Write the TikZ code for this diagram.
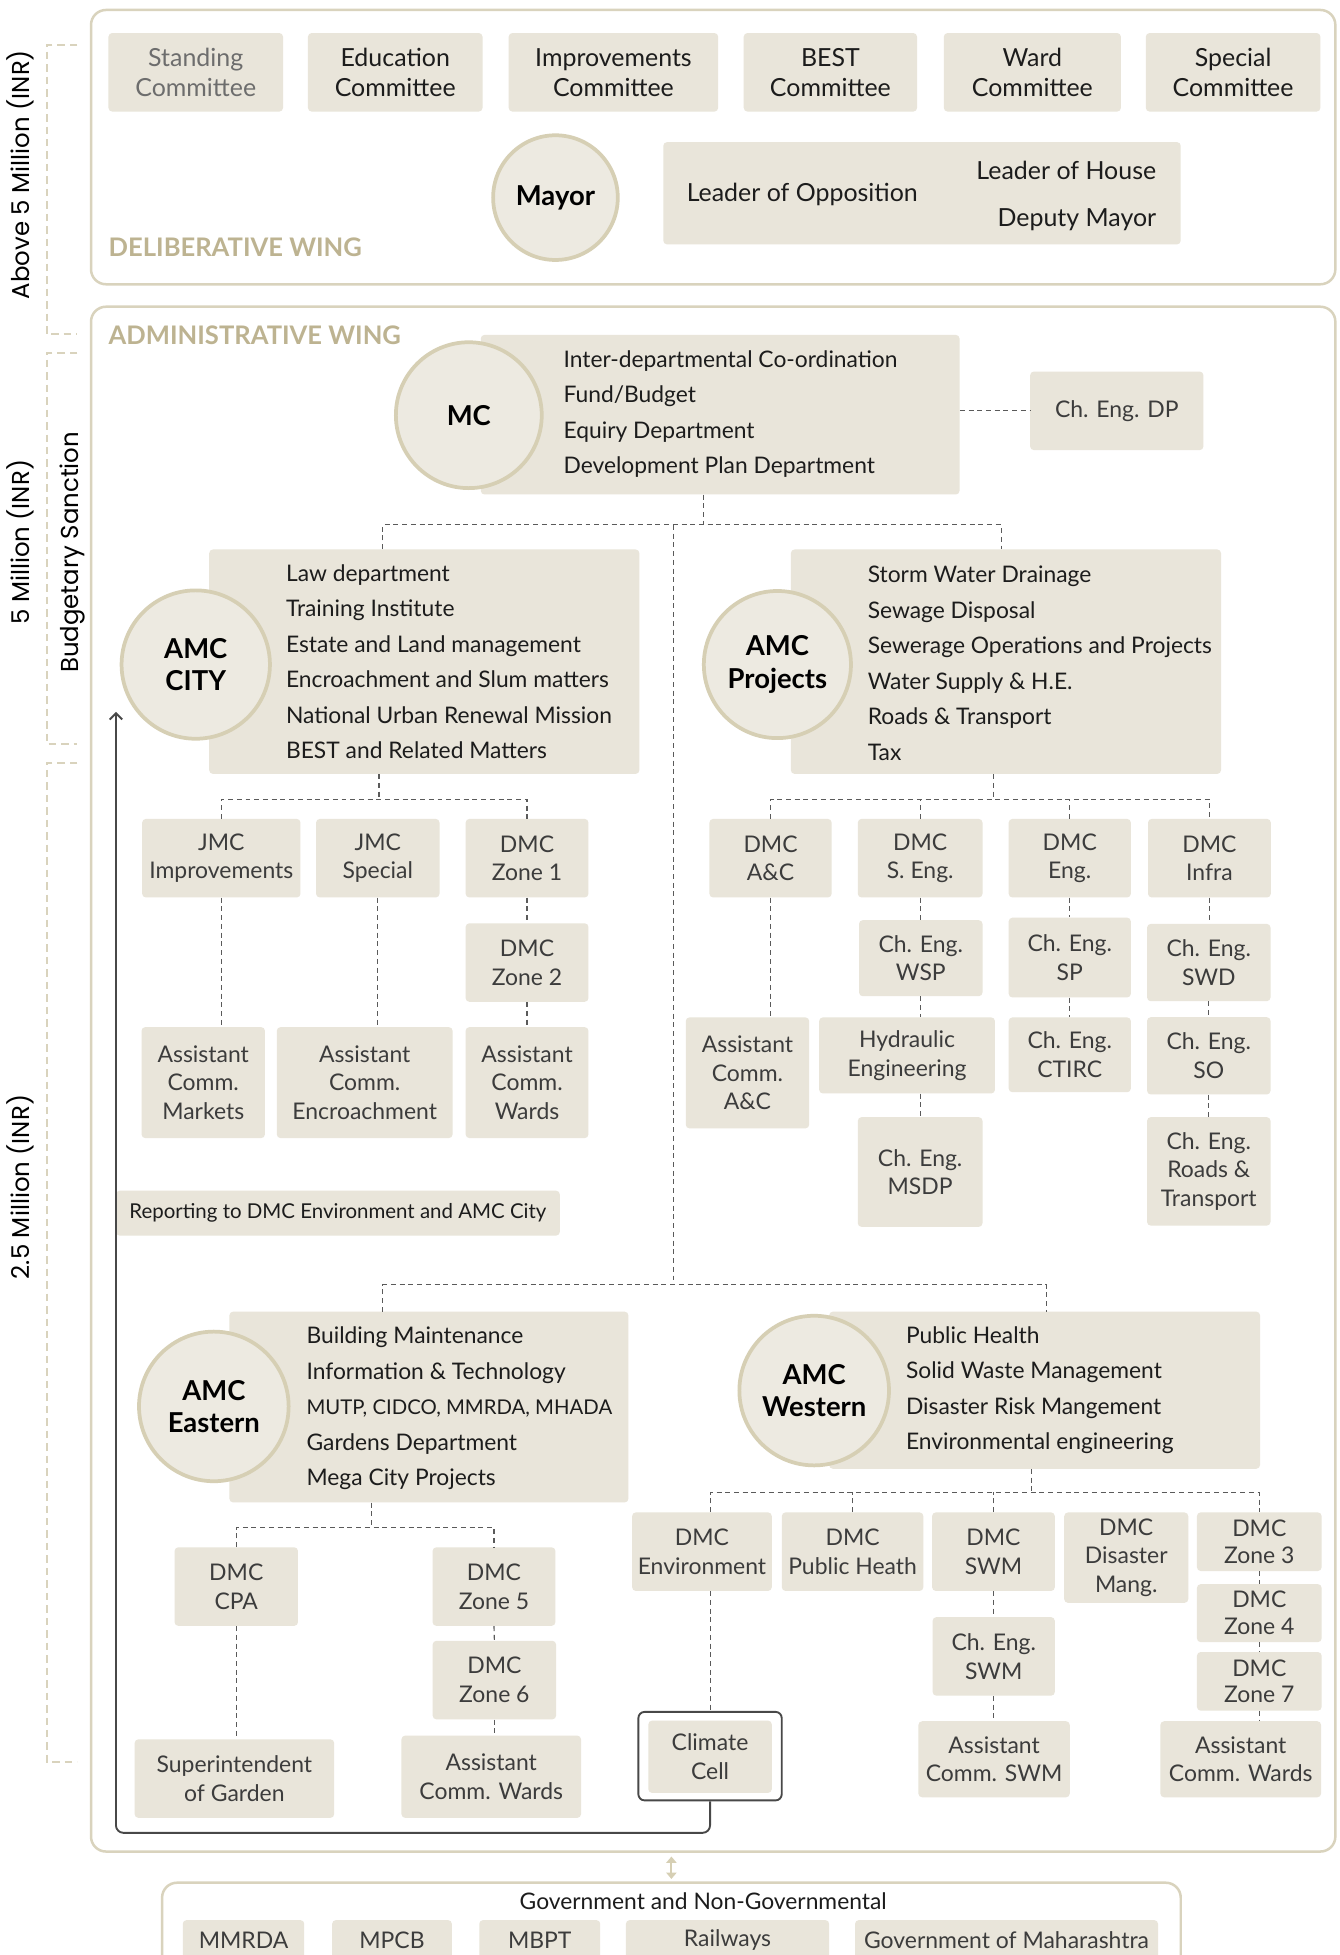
\documentclass[tikz,border=0pt]{standalone}
\usepackage{fontspec}
\setmainfont{Lato}
\newfontfamily\poppinsfont{Poppins}
\usepackage{tikz}
\usetikzlibrary{arrows.meta,positioning,calc,backgrounds}
\definecolor{amcBox}{HTML}{E9E5DA}
\definecolor{amcDisc}{HTML}{EDEAE1}
\definecolor{amcRing}{HTML}{D6CFB4}
\definecolor{amcFrame}{HTML}{D9D3BD}
\definecolor{amcTan}{HTML}{BDB391}
\definecolor{amcInk}{HTML}{1C1C1C}
\definecolor{amcGrey}{HTML}{3C3C3C}
\definecolor{amcDash}{HTML}{5A5A5A}
\tikzset{
    sz/.style 2 args={minimum width=#1pt, minimum height=#2pt},
    seat/.style={fill=amcBox, rounded corners=3pt, align=center, text=amcGrey, inner sep=0pt, font=\fontsize{18.4}{23}\selectfont},
    committee/.style={seat, text=amcInk, font=\fontsize{20}{24}\selectfont},
    listbox/.style={fill=amcBox, rounded corners=3pt, inner sep=0pt},
    listtext/.style={anchor=west, align=left, text=amcInk, inner sep=0pt, font=\fontsize{18.3}{28.5}\selectfont},
    caption/.style={inner sep=0pt, text=amcInk},
    chief/.style={circle, draw=amcRing, line width=3pt, fill=amcDisc, align=center, inner sep=0pt, text=black, font=\bfseries\fontsize{22}{26}\selectfont},
    wingpanel/.style={draw=amcFrame, line width=2pt, rounded corners=12pt, fill=white, inner sep=0pt},
    winglabel/.style={anchor=west, inner sep=0pt, text=amcTan, font=\bfseries\fontsize{20.5}{24}\selectfont},
    tie/.style={draw=amcDash, line width=0.9pt, dash pattern=on 4pt off 3pt},
    reportline/.style={draw=amcDash!80!black, line width=1.5pt, rounded corners=6pt, -{Straight Barb[length=5pt,width=10pt]}},
    twoway/.style={draw=amcRing, line width=1.6pt, {Triangle[length=5pt,width=8pt]}-{Triangle[length=5pt,width=8pt]}},
    band/.style={draw=amcFrame, line width=1.6pt, dash pattern=on 6pt off 4pt},
    bandlabel/.style={rotate=90, inner sep=0pt, font=\poppinsfont\fontsize{19.6}{22}\selectfont, text=black}
}
\begin{document}
\begin{tikzpicture}[x=1pt, y=-1pt, font=\fontsize{20}{24}\selectfont]
\fill[white] (0,0) rectangle (1074,1568);
\useasboundingbox (0,0) rectangle (1074,1568);

% budget bands on the left
\foreach \top/\bot in {36/268, 283/597, 612/1413}
    \draw[band] (62,\top) -| (37.5,\bot) -- (62,\bot);
\node[bandlabel] (abovefive) at (16,140) {Above 5 Million (INR)};
\node[bandlabel] (fivem) at (16,435) {5 Million (INR)};
\node[bandlabel] (sanction) at (58,443) {Budgetary Sanction};
\node[bandlabel] (twohalf) at (16,952) {2.5 Million (INR)};

% deliberative wing
\node[wingpanel, sz={998}{220}] (delibwing) at (572,118) {};
\node[winglabel] (delibtag) at (87,198) {DELIBERATIVE WING};
\node[committee, sz={140}{63}, text=amcGrey!75] (standing) at (157,58) {Standing\\Committee};
\node[committee, sz={140}{63}] (education) at (317,58) {Education\\Committee};
\node[committee, sz={168}{63}] (improve) at (492,58) {Improvements\\Committee};
\node[committee, sz={139}{63}] (bestcom) at (666,58) {BEST\\Committee};
\node[committee, sz={142}{63}] (wardcom) at (828,58) {Ward\\Committee};
\node[committee, sz={140}{63}] (specialcom) at (989,58) {Special\\Committee};
\node[chief, minimum size=100pt] (mayor) at (445.5,158.5) {Mayor};
\node[listbox, sz={415}{82}] (leaders) at (739.5,155) {};
\node[caption, anchor=west] (opposition) at (550.6,156) {Leader of Opposition};
\node[caption, anchor=east] (househead) at (927.5,137) {Leader of House};
\node[caption, anchor=east] (deputy) at (927.5,176) {Deputy Mayor};

% administrative wing
\node[wingpanel, sz={998}{1239}] (adminwing) at (572,865.5) {};
\node[winglabel] (admintag) at (87,269) {ADMINISTRATIVE WING};

\node[listbox, sz={384}{128}] (mcbox) at (577.6,332.6) {};
\node[chief, minimum size=117pt] (mc) at (376,333) {MC};
\node[listtext] (mclist) at (451.8,332) {Inter-departmental Co-ordination\\Fund/Budget\\Equiry Department\\Development Plan Department};
\node[seat, sz={139}{63}] (cedp) at (895.7,329.5) {Ch. Eng. DP};

\node[listbox, sz={345}{180}] (citybox) at (340.3,530.7) {};
\node[chief, minimum size=119pt] (city) at (157,533) {AMC\\CITY};
\node[listtext] (citylist) at (229.2,530.7) {Law department\\Training Institute\\Estate and Land management\\Encroachment and Slum matters\\National Urban Renewal Mission\\BEST and Related Matters};

\node[listbox, sz={345}{180}] (projbox) at (806.8,530.7) {};
\node[chief, minimum size=118pt] (projects) at (623.5,533) {AMC\\Projects};
\node[listtext] (projlist) at (695.8,532) {Storm Water Drainage\\Sewage Disposal\\Sewerage Operations and Projects\\Water Supply \& H.E.\\Roads \& Transport\\Tax};

% city branch
\node[seat, sz={127}{63}] (jmcimp) at (177.5,688.3) {JMC\\Improvements};
\node[seat, sz={99}{63}] (jmcspl) at (303,688.3) {JMC\\Special};
\node[seat, sz={98.5}{63}] (zone1) at (422.7,688.3) {DMC\\Zone 1};
\node[seat, sz={98.5}{63}] (zone2) at (422.7,772) {DMC\\Zone 2};
\node[seat, sz={99}{89}] (acmkt) at (163,868.3) {Assistant\\Comm.\\Markets};
\node[seat, sz={141}{89}] (acenc) at (292.5,868.3) {Assistant\\Comm.\\Encroachment};
\node[seat, sz={98.5}{89}] (acwrd) at (422.7,868.3) {Assistant\\Comm.\\Wards};
\node[listbox, sz={356}{36}, text=amcInk, font=\fontsize{16.4}{20}\selectfont] (reporting) at (271,973) {Reporting to DMC Environment and AMC City};

% projects branch
\node[seat, sz={98}{63}] (dmcac) at (618,688.3) {DMC\\A\&C};
\node[seat, sz={100}{63}] (dmcse) at (738,688.3) {DMC\\S. Eng.};
\node[seat, sz={98}{63}] (dmceng) at (858,688.3) {DMC\\Eng.};
\node[seat, sz={98.5}{63}] (dmcinf) at (970,688.3) {DMC\\Infra};
\node[seat, sz={99}{61}] (cewsp) at (738.5,768.5) {Ch. Eng.\\WSP};
\node[seat, sz={98}{64}] (cesp) at (858,768) {Ch. Eng.\\SP};
\node[seat, sz={99}{62}] (ceswd) at (969.5,772) {Ch. Eng.\\SWD};
\node[seat, sz={99}{89}] (acac) at (599.5,860.5) {Assistant\\Comm.\\A\&C};
\node[seat, sz={141}{61}] (hydr) at (727.5,846.5) {Hydraulic\\Engineering};
\node[seat, sz={98}{60}] (ctirc) at (858,846) {Ch. Eng.\\CTIRC};
\node[seat, sz={99}{62}] (ceso) at (969.5,846.8) {Ch. Eng.\\SO};
\node[seat, sz={100}{88}] (msdp) at (738,940) {Ch. Eng.\\MSDP};
\node[seat, sz={99}{87}] (roads) at (969.5,939.5) {Ch. Eng.\\Roads \&\\Transport};

% eastern and western
\node[listbox, sz={320}{153}] (eastbox) at (344,1128.5) {};
\node[chief, minimum size=120pt] (eastern) at (171.5,1128) {AMC\\Eastern};
\node[listtext] (eastlist) at (245.7,1129.5) {Building Maintenance\\Information \& Technology\\{\fontsize{16.3}{28.5}\selectfont MUTP, CIDCO, MMRDA, MHADA}\\Gardens Department\\Mega City Projects};

\node[listbox, sz={345.6}{126}] (westbox) at (837.8,1115) {};
\node[chief, minimum size=120pt] (western) at (653,1115.3) {AMC\\Western};
\node[listtext] (westlist) at (726.5,1115) {Public Health\\Solid Waste Management\\Disaster Risk Mangement\\Environmental engineering};

\node[seat, sz={99}{63}] (dmccpa) at (189.5,1272.5) {DMC\\CPA};
\node[seat, sz={98.5}{63}] (zone5) at (396.2,1272.5) {DMC\\Zone 5};
\node[seat, sz={99}{63}] (zone6) at (396.5,1347.5) {DMC\\Zone 6};
\node[seat, sz={160}{63}] (supgdn) at (188,1426.5) {Superintendent\\of Garden};
\node[seat, sz={144}{66}] (acwrde) at (394,1425) {Assistant\\Comm. Wards};

\node[seat, sz={112}{63}] (dmcenv) at (563,1244.5) {DMC\\Environment};
\node[seat, sz={113.5}{63}] (dmcph) at (683.8,1244.5) {DMC\\Public Heath};
\node[seat, sz={98.4}{63}] (dmcswm) at (796.8,1244.5) {DMC\\SWM};
\node[seat, sz={99.5}{72.5}] (dmcdis) at (903.3,1249.3) {DMC\\Disaster\\Mang.};
\node[seat, sz={100}{47}, font=\fontsize{18.4}{21.5}\selectfont] (zone3) at (1010,1236.5) {DMC\\Zone 3};
\node[seat, sz={100}{46.5}, font=\fontsize{18.4}{21.5}\selectfont] (zone4) at (1010,1293.8) {DMC\\Zone 4};
\node[seat, sz={100}{47}, font=\fontsize{18.4}{21.5}\selectfont] (zone7) at (1010,1348.5) {DMC\\Zone 7};
\node[seat, sz={98}{63}] (ceswm) at (797,1328.5) {Ch. Eng.\\SWM};
\node[seat, sz={121.4}{61}] (acswm) at (797.3,1411) {Assistant\\Comm. SWM};
\node[seat, sz={128.9}{61}] (acwrdw) at (995.1,1411) {Assistant\\Comm. Wards};
\node[draw=amcDash!80!black, line width=1.5pt, fill=white, rounded corners=5pt, sz={115}{71}] (climframe) at (569.5,1408.5) {};
\node[seat, sz={99}{58}] (climate) at (569.5,1409) {Climate\\Cell};

% government and non-governmental
\node[wingpanel, sz={817}{80}] (govwing) at (538.5,1550) {};
\node[caption, font=\fontsize{18.3}{22}\selectfont] (govtitle) at (564,1525) {Government and Non-Governmental};
\node[seat, sz={97.4}{32}] (mmrda) at (195.3,1556) {MMRDA};
\node[seat, sz={96}{32}] (mpcb) at (314.4,1556) {MPCB};
\node[seat, sz={97}{32}] (mbpt) at (432.9,1556) {MBPT};
\node[seat, sz={163}{32}] (railways) at (583.5,1556) {Railways};
\node[seat, sz={243}{32}] (govmah) at (807.3,1556) {Government of Maharashtra};

% connectors
\coordinate (mcfork) at (564,421);
\coordinate (cityin) at (307,440.4);
\coordinate (projin) at (803,440.4);
\coordinate (spinetop) at (540.5,421);
\coordinate (spinebot) at (540.5,1030.5);
\coordinate (eastin) at (307,1052);
\coordinate (westin) at (839.5,1052);
\draw[tie] (mcbox.east |- cedp.west) -- (cedp.west);
\draw[tie] (mcbox.south -| mcfork) -- (mcfork);
\draw[tie] (cityin) |- (mcfork) -| (projin);
\draw[tie] (spinetop) -- (spinebot);
\draw[tie] (eastin) |- (spinebot) -| (westin);

\coordinate (cityfork) at (304,641);
\draw[tie] (citybox.south -| cityfork) -- (cityfork);
\draw[tie] (jmcimp.north) |- (cityfork) -| (zone1.north);
\draw[tie] (jmcimp.south) -- (jmcimp.south |- acmkt.north);
\draw[tie] (jmcspl.south) -- (jmcspl.south |- acenc.north);
\draw[tie] (zone1.south) -- (zone2.north);
\draw[tie] (zone2.south) -- (acwrd.north);

\coordinate (projfork) at (797,641);
\draw[tie] (projbox.south -| projfork) -- (projfork);
\draw[tie] (dmcac.north) |- (projfork) -| (dmcinf.north);
\draw[tie] (dmcse.north) -- (dmcse.north |- projfork);
\draw[tie] (dmceng.north) -- (dmceng.north |- projfork);
\draw[tie] (dmcac.south) -- (dmcac.south |- acac.north);
\draw[tie] (dmcse.south) -- (dmcse.south |- cewsp.north);
\draw[tie] (cewsp.south) -- (cewsp.south |- hydr.north);
\draw[tie] (hydr.south -| msdp.north) -- (msdp.north);
\draw[tie] (dmceng.south) -- (cesp.north);
\draw[tie] (cesp.south) -- (ctirc.north);
\draw[tie] (dmcinf.south) -- (dmcinf.south |- ceswd.north);
\draw[tie] (ceswd.south) -- (ceso.north);
\draw[tie] (ceso.south) -- (roads.north);

\coordinate (eastfork) at (298,1225);
\draw[tie] (eastbox.south -| eastfork) -- (eastfork);
\draw[tie] (dmccpa.north) |- (eastfork) -| (zone5.north);
\draw[tie] (dmccpa.south) -- (dmccpa.south |- supgdn.north);
\draw[tie] (zone5.south) -- (zone6.north);
\draw[tie] (zone6.south) -- (zone6.south |- acwrde.north);

\coordinate (westfork) at (827,1197);
\draw[tie] (westbox.south -| westfork) -- (westfork);
\draw[tie] (dmcenv.north -| climframe.north) |- (westfork) -| (zone3.north);
\draw[tie] (dmcph.north) -- (dmcph.north |- westfork);
\draw[tie] (dmcswm.north) -- (dmcswm.north |- westfork);
\draw[tie] (dmcenv.south -| climframe.north) -- (climframe.north);
\draw[tie] (dmcswm.south) -- (dmcswm.south |- ceswm.north);
\draw[tie] (ceswm.south) -- (ceswm.south |- acswm.north);
\draw[tie] (zone3.south) -- (zone4.north);
\draw[tie] (zone4.south) -- (zone7.north);
\draw[tie] (zone7.south) -- (zone7.south |- acwrdw.north);

\coordinate (reportturn) at (93,1470);
\coordinate (reporttip) at (93,571);
\draw[reportline] (climframe.south) |- (reportturn) -- (reporttip);
\draw[twoway] ([yshift=-3pt]adminwing.south -| govwing.north) -- ([yshift=2pt]govwing.north);
\end{tikzpicture}
\end{document}
